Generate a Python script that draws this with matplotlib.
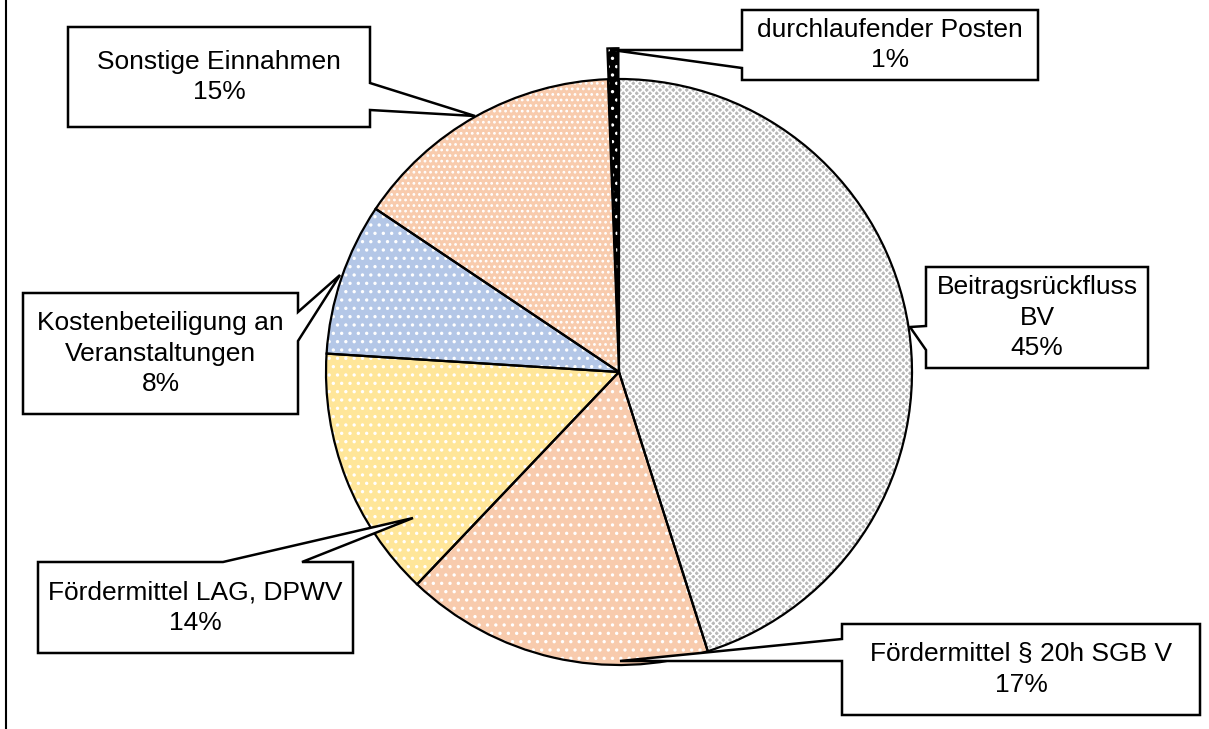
import matplotlib
matplotlib.use("Agg")
import matplotlib.pyplot as plt
from matplotlib.patches import Polygon
from matplotlib.lines import Line2D

plt.rcParams['font.family'] = ['Liberation Sans', 'DejaVu Sans']
plt.rcParams['hatch.linewidth'] = 1.2

# ---- data ----
categories = ["Beitragsrückfluss\nBV", "Fördermittel § 20h SGB V",
              "Fördermittel LAG, DPWV", "Kostenbeteiligung an\nVeranstaltungen",
              "Sonstige Einnahmen", "durchlaufender Posten"]
values = [45.1, 17.0, 13.9, 8.4, 15.0, 0.6]
pct_labels = ["45%", "17%", "14%", "8%", "15%", "1%"]

# ---- style ----
colors = ["#B8B8B8", "#F8CBAD", "#FFE699", "#B4C7E7", "#F8CBAD", "#000000"]
hatches = ["xxxxx", "..", "..", "..", "...", ".."]
explode_frac = [0, 0, 0, 0, 0, 0.105]

W, H = 1209, 729
fig = plt.figure(figsize=(W / 100, H / 100), dpi=100)
ax = fig.add_axes([0, 0, 1, 1])

center = (619, 372)
radius = 293
explode = [e * radius for e in explode_frac]

# fill + white pattern
ax.pie(values, colors=colors, explode=explode, startangle=-90, counterclock=True,
       center=center, radius=radius, hatch=hatches,
       wedgeprops=dict(edgecolor="white", linewidth=0))
# outlines
ax.pie(values, colors=["none"] * len(values), explode=explode, startangle=-90,
       counterclock=True, center=center, radius=radius,
       wedgeprops=dict(edgecolor="black", linewidth=1.6, fill=False))

ax.set_xlim(0, W)
ax.set_ylim(H, 0)
ax.set_aspect("auto")
ax.set_axis_off()

# ---- callouts: box (x0, y0, x1, y1), side of pointer, pointer base (a, b), tip ----
callouts = [
    ((926, 267, 1148, 368), "left", (326, 350), (910, 327)),
    ((842, 624, 1200, 715), "left", (639, 661), (620, 661)),
    ((38, 562, 353, 653), "top", (223, 302), (413, 518)),
    ((23, 293, 298, 414), "right", (312, 341), (340, 275)),
    ((68, 27, 370, 127), "right", (83, 110), (475, 116)),
    ((742, 10, 1038, 80), "left", (50, 68), (612, 50)),
]


def callout_poly(box, side, base, tip):
    x0, y0, x1, y1 = box
    a, b = base
    if side == "left":
        return [(x0, y0), (x1, y0), (x1, y1), (x0, y1), (x0, b), tip, (x0, a)]
    if side == "right":
        return [(x0, y0), (x1, y0), (x1, a), tip, (x1, b), (x1, y1), (x0, y1)]
    if side == "top":
        return [(x0, y0), (a, y0), tip, (b, y0), (x1, y0), (x1, y1), (x0, y1)]
    return [(x0, y0), (x1, y0), (x1, y1), (b, y1), tip, (a, y1), (x0, y1)]


for (box, side, base, tip), cat, pct in zip(callouts, categories, pct_labels):
    poly = Polygon(callout_poly(box, side, base, tip), closed=True,
                   facecolor="white", edgecolor="black", linewidth=1.8,
                   joinstyle="miter", zorder=5)
    ax.add_patch(poly)
    cx = (box[0] + box[2]) / 2
    cy = (box[1] + box[3]) / 2
    ax.text(cx, cy, f"{cat}\n{pct}", ha="center", va="center", fontsize=19,
            linespacing=1.33, zorder=6, color="black")

# left frame line
fig.add_artist(Line2D([6 / W, 6 / W], [0, 1], transform=fig.transFigure,
                      color="black", linewidth=1.5))

fig.savefig("out.png", dpi=100)
